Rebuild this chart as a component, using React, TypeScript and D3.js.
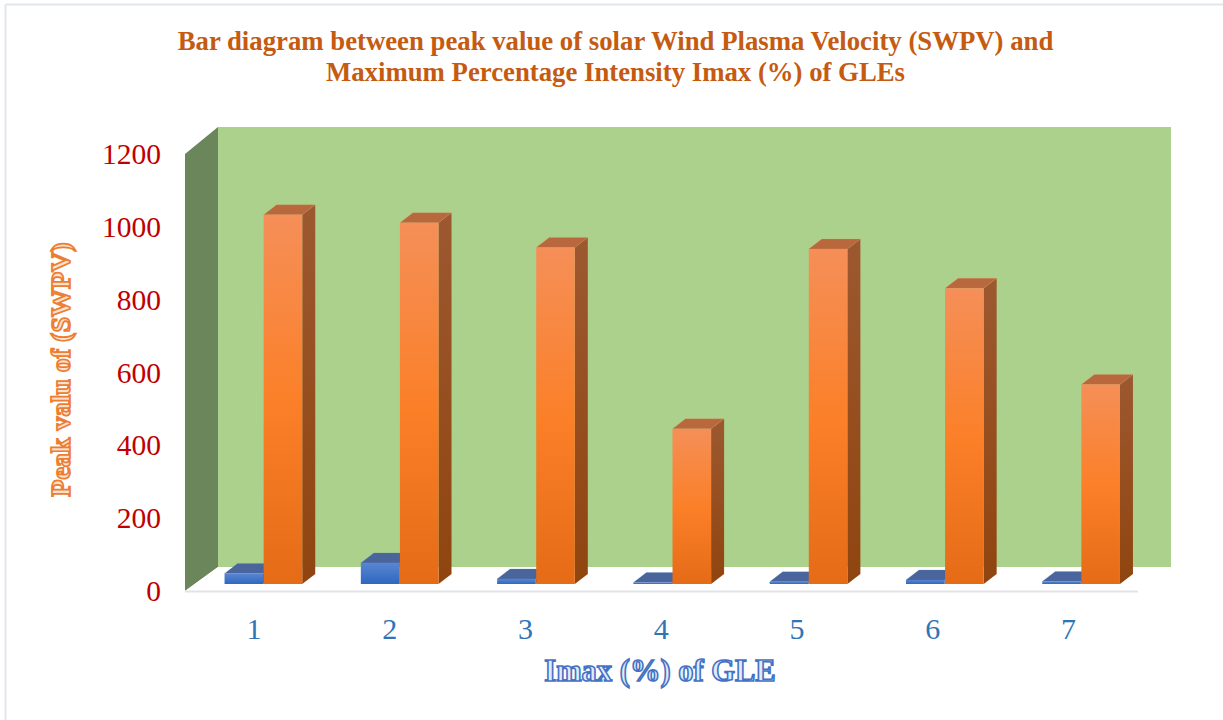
import React from "react";
import * as d3 from "d3";

const categories = ["1", "2", "3", "4", "5", "6", "7"];
const imaxValues = [29, 58, 14, 4, 6, 11, 7];
const swpvValues = [1014, 992, 924, 426, 920, 812, 548];
const yTicks = [0, 200, 400, 600, 800, 1000, 1200];
const titleLines = [
  "Bar diagram between peak value of solar Wind Plasma Velocity (SWPV) and",
  "Maximum Percentage Intensity Imax (%) of GLEs",
];
const yTitle = "Peak valu of (SWPV)";
const xTitle = "Imax (%) of GLE";

const W = 1223;
const H = 720;
const SERIF = "'Liberation Serif', serif";

// Front plane of the 3-D box
const x0 = 185, x1 = 1138, yBase = 591, yTop = 154;
const wallDx = 33, wallDy = -24;
// Bars stand in the middle of the box depth
const barInsetDy = -7, barDx = 13, barDy = -10;

const yScale = d3.scaleLinear().domain([0, 1200]).range([yBase, yTop]);
const xScale = d3.scaleBand<string>().domain(categories).range([195.5, 1149.5]);
const labelScale = d3.scalePoint<string>().domain(categories).range([254, 1068.5]);
const barW = 38.6;

const pts = (p: [number, number][]) => p.map((q) => q.join(",")).join(" ");

function Bar3D({ x, value, kind }: { x: number; value: number; kind: "blue" | "orange" }) {
  const b = yBase + barInsetDy;
  const t = yScale(value) + barInsetDy;
  const top = kind === "blue" ? "#4a659c" : "#b9673c";
  const sideId = kind === "blue" ? "url(#sideBlue)" : "url(#sideOrange)";
  const frontId = kind === "blue" ? "url(#frontBlue)" : "url(#frontOrange)";
  const stroke = kind === "blue" ? "#5b86cf" : "#ef9a5f";
  return (
    <g>
      <polygon points={pts([[x + barW, b], [x + barW + barDx, b + barDy], [x + barW + barDx, t + barDy], [x + barW, t]])} fill={sideId} />
      <polygon points={pts([[x, t], [x + barDx, t + barDy], [x + barW + barDx, t + barDy], [x + barW, t]])} fill={top} stroke={stroke} strokeOpacity={0.35} strokeWidth={0.6} />
      <rect x={x} y={t} width={barW} height={Math.max(b - t, 0.5)} fill={frontId} />
    </g>
  );
}

export default function App() {
  return (
    <svg width={W} height={H} viewBox={`0 0 ${W} ${H}`} style={{ position: "absolute", left: 0, top: 0, display: "block", background: "#fff" }}>
      <defs>
        <linearGradient id="frontOrange" x1="0" y1="0" x2="0" y2="1">
          <stop offset="0" stopColor="#f58f58" />
          <stop offset="0.52" stopColor="#fb7f27" />
          <stop offset="1" stopColor="#e56b17" />
        </linearGradient>
        <linearGradient id="sideOrange" x1="0" y1="0" x2="0" y2="1">
          <stop offset="0" stopColor="#9c5830" />
          <stop offset="1" stopColor="#90450f" />
        </linearGradient>
        <linearGradient id="frontBlue" x1="0" y1="0" x2="0" y2="1">
          <stop offset="0" stopColor="#5a86d2" />
          <stop offset="1" stopColor="#2f67c0" />
        </linearGradient>
        <linearGradient id="sideBlue" x1="0" y1="0" x2="0" y2="1">
          <stop offset="0" stopColor="#34518a" />
          <stop offset="1" stopColor="#2c4a80" />
        </linearGradient>
      </defs>

      {/* outer frame */}
      <line x1={5.5} y1={4.5} x2={W} y2={4.5} stroke="#e1e6ee" strokeWidth={2} />
      <line x1={5.5} y1={4.5} x2={5.5} y2={H} stroke="#e1e6ee" strokeWidth={2} />

      {/* title */}
      <text fontFamily={SERIF} fontWeight="bold" fontSize={26.75} fill="#c55a11" textAnchor="middle">
        <tspan x={615.5} y={50}>{titleLines[0]}</tspan>
        <tspan x={615.5} y={81}>{titleLines[1]}</tspan>
      </text>

      {/* walls and floor */}
      <polygon points={pts([[x0 + wallDx, yTop + wallDy - 3], [x1 + wallDx, yTop + wallDy - 3], [x1 + wallDx, yBase + wallDy], [x0 + wallDx, yBase + wallDy]])} fill="#acd18c" />
      <polygon points={pts([[x0, yTop], [x0 + wallDx, yTop + wallDy - 3], [x0 + wallDx, yBase + wallDy], [x0, yBase]])} fill="#6b865a" />
      <polygon points={pts([[x0, yBase], [x0 + wallDx, yBase + wallDy], [x1 + wallDx, yBase + wallDy], [x1, yBase]])} fill="#ffffff" />
      <line x1={x0} y1={yBase + 0.5} x2={x1} y2={yBase + 0.5} stroke="#dfe3ec" strokeWidth={2} />

      {/* bars */}
      {categories.map((c, i) => {
        const center = (xScale(c) as number) + xScale.bandwidth() / 2;
        return (
          <g key={c}>
            <Bar3D x={center - barW - 0.5} value={imaxValues[i]} kind="blue" />
            <Bar3D x={center} value={swpvValues[i]} kind="orange" />
          </g>
        );
      })}

      {/* y ticks */}
      {yTicks.map((t) => (
        <text key={t} x={161} y={yScale(t) + 10} textAnchor="end" fontFamily={SERIF} fontSize={29.5} fill="#c00000">{t}</text>
      ))}

      {/* x ticks */}
      {categories.map((c) => (
        <text key={c} x={labelScale(c) as number} y={639} textAnchor="middle" fontFamily={SERIF} fontSize={30} fill="#2e75b6">{c}</text>
      ))}

      {/* axis titles */}
      <text x={660} y={681} textAnchor="middle" fontFamily={SERIF} fontWeight="bold" fontSize={30.5} fill="#e3ebf8" stroke="#4472c4" strokeWidth={1.6}>{xTitle}</text>
      <text transform="translate(69.5,369.5) rotate(-90)" textAnchor="middle" fontFamily={SERIF} fontWeight="bold" fontSize={28} fill="#fbe0cc" stroke="#ed7d31" strokeWidth={1.7}>{yTitle}</text>
    </svg>
  );
}
